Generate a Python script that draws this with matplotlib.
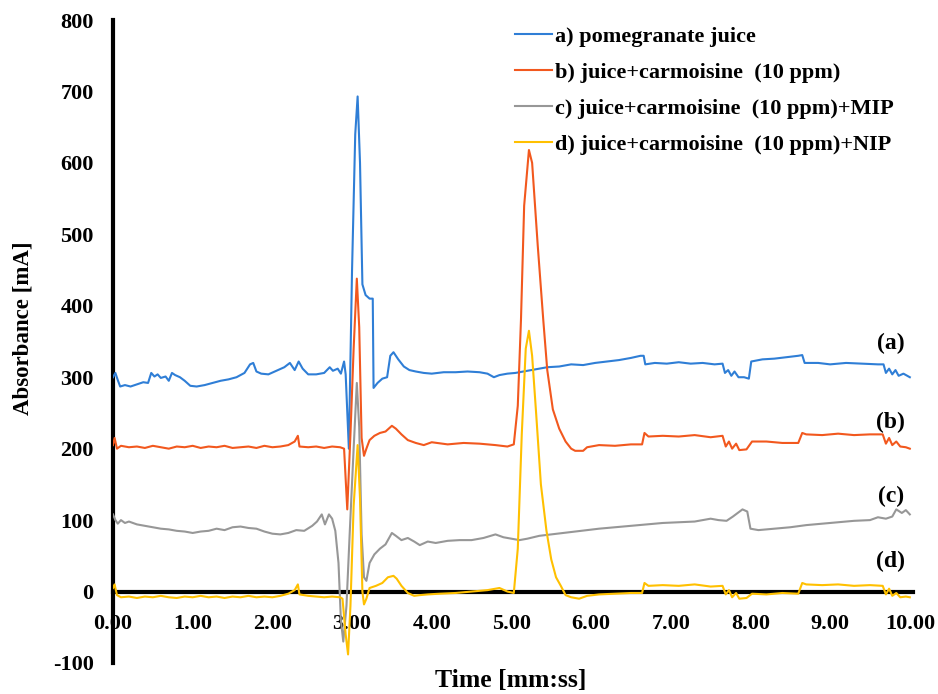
import matplotlib
matplotlib.use("Agg")
import matplotlib.pyplot as plt
import numpy as np

# ---------------- data ----------------
t_a = [0.00, 0.03, 0.06, 0.09, 0.15, 0.22, 0.30, 0.38, 0.44, 0.48, 0.52, 0.56, 0.60, 0.66, 0.70,
       0.74, 0.78, 0.84, 0.90, 0.97, 1.05, 1.15, 1.25, 1.35, 1.45, 1.55, 1.65, 1.72, 1.76, 1.80,
       1.86, 1.95, 2.05, 2.15, 2.22, 2.28, 2.33, 2.38, 2.45, 2.55, 2.65, 2.72, 2.76, 2.82, 2.86,
       2.90, 2.92, 2.96, 3.00, 3.04, 3.07, 3.10, 3.13, 3.17, 3.22, 3.26, 3.27, 3.32, 3.38, 3.44,
       3.48, 3.52, 3.58, 3.65, 3.72, 3.80, 3.90, 4.00, 4.15, 4.30, 4.45, 4.60, 4.70, 4.78, 4.85,
       4.95, 5.05, 5.15, 5.30, 5.45, 5.60, 5.75, 5.90, 6.05, 6.20, 6.35, 6.50, 6.62, 6.66, 6.68,
       6.80, 6.95, 7.10, 7.25, 7.40, 7.55, 7.65, 7.68, 7.72, 7.76, 7.80, 7.85, 7.92, 7.98, 8.01,
       8.15, 8.30, 8.45, 8.60, 8.65, 8.68, 8.85, 9.00, 9.20, 9.40, 9.60, 9.67, 9.70, 9.74, 9.78,
       9.82, 9.86, 9.92, 10.00]
v_a = [300, 306, 296, 287, 289, 287, 290, 293, 292, 306, 301, 304, 299, 301, 295,
       306, 303, 300, 295, 288, 287, 289, 292, 295, 297, 300, 306, 318, 320, 308,
       305, 304, 309, 314, 320, 310, 322, 312, 304, 304, 306, 314, 309, 312, 305,
       322, 304, 200, 450, 640, 693, 600, 430, 415, 410, 410, 285, 292, 298, 300,
       330, 335, 325, 315, 310, 308, 306, 305, 307, 307, 308, 307, 305, 300, 303,
       305, 306, 308, 311, 314, 315, 318, 317, 320, 322, 324, 327, 330, 330, 318,
       320, 319, 321, 319, 320, 318, 319, 306, 310, 302, 308, 300, 300, 298, 322,
       325, 326, 328, 330, 331, 320, 320, 318, 320, 319, 318, 318, 306, 312, 304,
       310, 302, 305, 300]

t_b = [0.00, 0.02, 0.05, 0.10, 0.20, 0.30, 0.40, 0.50, 0.60, 0.70, 0.80, 0.90, 1.00, 1.10, 1.20,
       1.30, 1.40, 1.50, 1.60, 1.70, 1.80, 1.90, 2.00, 2.10, 2.20, 2.28, 2.32, 2.34, 2.45, 2.55,
       2.65, 2.75, 2.85, 2.90, 2.94, 2.98, 3.02, 3.06, 3.09, 3.12, 3.15, 3.18, 3.22, 3.28, 3.35,
       3.42, 3.50, 3.55, 3.62, 3.70, 3.80, 3.90, 4.00, 4.20, 4.40, 4.60, 4.80, 4.95, 5.03, 5.08,
       5.12, 5.16, 5.22, 5.26, 5.33, 5.40, 5.45, 5.52, 5.60, 5.68, 5.75, 5.80, 5.90, 5.95, 6.10,
       6.30, 6.50, 6.64, 6.67, 6.72, 6.90, 7.10, 7.30, 7.50, 7.65, 7.69, 7.73, 7.77, 7.82, 7.86,
       7.95, 8.02, 8.20, 8.40, 8.60, 8.65, 8.70, 8.90, 9.10, 9.30, 9.50, 9.66, 9.70, 9.74, 9.78,
       9.83, 9.88, 9.95, 10.00]
v_b = [205, 215, 200, 204, 202, 203, 201, 204, 202, 200, 203, 202, 204, 201, 203,
       202, 204, 201, 202, 203, 201, 204, 202, 203, 205, 210, 218, 203, 202, 203,
       201, 203, 202, 200, 115, 220, 340, 438, 370, 215, 190, 200, 212, 218, 222,
       224, 232, 228, 220, 212, 208, 205, 209, 206, 208, 207, 205, 203, 206, 260,
       380, 540, 618, 600, 485, 380, 310, 255, 228, 210, 200, 197, 197, 202, 205,
       204, 206, 206, 222, 217, 218, 217, 219, 216, 218, 203, 210, 200, 207, 198,
       199, 210, 210, 208, 208, 222, 220, 219, 221, 219, 220, 220, 207, 215, 205,
       210, 203, 202, 200]

t_c = [0.00, 0.03, 0.06, 0.10, 0.15, 0.20, 0.30, 0.40, 0.50, 0.60, 0.70, 0.80, 0.90, 1.00, 1.10,
       1.20, 1.30, 1.40, 1.50, 1.60, 1.70, 1.80, 1.90, 2.00, 2.10, 2.20, 2.30, 2.40, 2.50, 2.56,
       2.62, 2.66, 2.71, 2.75, 2.79, 2.83, 2.86, 2.89, 2.93, 2.97, 3.02, 3.06, 3.09, 3.12, 3.15,
       3.18, 3.22, 3.28, 3.35, 3.42, 3.50, 3.55, 3.62, 3.70, 3.78, 3.85, 3.95, 4.05, 4.20, 4.35,
       4.50, 4.65, 4.80, 4.90, 5.00, 5.10, 5.20, 5.35, 5.50, 5.65, 5.80, 5.95, 6.10, 6.30, 6.50,
       6.70, 6.90, 7.10, 7.30, 7.50, 7.60, 7.70, 7.78, 7.84, 7.90, 7.96, 8.00, 8.10, 8.30, 8.50,
       8.70, 8.90, 9.10, 9.30, 9.50, 9.60, 9.70, 9.78, 9.83, 9.90, 9.95, 10.00]
v_c = [108, 100, 95, 100, 96, 98, 94, 92, 90, 88, 87, 85, 84, 82, 84,
       85, 88, 86, 90, 91, 89, 88, 84, 81, 80, 82, 86, 85, 92, 98,
       108, 94, 108, 102, 85, 40, -40, -70, -20, 80, 200, 292, 230, 80, 20,
       15, 40, 52, 60, 66, 82, 78, 72, 75, 70, 65, 70, 68, 71, 72,
       72, 75, 80, 76, 74, 72, 74, 78, 80, 82, 84, 86, 88, 90, 92,
       94, 96, 97, 98, 102, 100, 99, 105, 110, 115, 112, 88, 86, 88, 90,
       93, 95, 97, 99, 100, 104, 102, 105, 115, 110, 114, 108]

t_d = [0.00, 0.02, 0.05, 0.10, 0.20, 0.30, 0.40, 0.50, 0.60, 0.70, 0.80, 0.90, 1.00, 1.10, 1.20,
       1.30, 1.40, 1.50, 1.60, 1.70, 1.80, 1.90, 2.00, 2.10, 2.20, 2.28, 2.32, 2.34, 2.45, 2.55,
       2.65, 2.75, 2.85, 2.88, 2.92, 2.95, 2.98, 3.02, 3.07, 3.10, 3.13, 3.15, 3.18, 3.22, 3.30,
       3.38, 3.45, 3.52, 3.56, 3.62, 3.70, 3.78, 3.85, 3.95, 4.10, 4.30, 4.50, 4.70, 4.85, 4.95,
       5.03, 5.08, 5.13, 5.18, 5.22, 5.26, 5.31, 5.37, 5.44, 5.50, 5.56, 5.62, 5.68, 5.75, 5.85,
       5.95, 6.10, 6.30, 6.50, 6.64, 6.67, 6.72, 6.90, 7.10, 7.30, 7.50, 7.65, 7.69, 7.73, 7.77,
       7.82, 7.86, 7.95, 8.02, 8.20, 8.40, 8.60, 8.65, 8.70, 8.90, 9.10, 9.30, 9.50, 9.66, 9.70,
       9.74, 9.78, 9.83, 9.88, 9.95, 10.00]
v_d = [5, 10, -5, -8, -7, -9, -7, -8, -6, -8, -9, -7, -8, -6, -8,
       -7, -9, -7, -8, -6, -8, -7, -8, -6, -3, 2, 10, -4, -6, -7,
       -8, -7, -8, -10, -60, -88, -20, 120, 205, 130, 0, -18, -10, 5, 8,
       12, 20, 22, 18, 8, -2, -6, -5, -4, -3, -2, 0, 2, 5, 0,
       -2, 60, 220, 340, 365, 330, 250, 150, 85, 45, 20, 8, -5, -8, -10,
       -6, -4, -3, -2, -2, 12, 8, 9, 8, 10, 7, 8, -4, 2, -8,
       -2, -10, -9, -3, -4, -2, -3, 12, 10, 9, 10, 8, 9, 8, -4,
       4, -6, -2, -8, -7, -8]

labels = ["a) pomegranate juice",
          "b) juice+carmoisine  (10 ppm)",
          "c) juice+carmoisine  (10 ppm)+MIP",
          "d) juice+carmoisine  (10 ppm)+NIP"]
tags = ["(a)", "(b)", "(c)", "(d)"]
tag_y = [347, 236, 133, 42]
x_ticks = [0, 1, 2, 3, 4, 5, 6, 7, 8, 9, 10]
y_ticks = [-100, 0, 100, 200, 300, 400, 500, 600, 700, 800]

colors = ["#2F7ED6", "#F2581E", "#979797", "#FFC000"]

# ---------------- figure ----------------
FONT = "Liberation Serif"
fig = plt.figure(figsize=(9.38, 6.94), dpi=100)
ax = fig.add_axes([113 / 938, 1 - 663 / 694, 800 / 938, 643 / 694])

series = [(t_a, v_a), (t_b, v_b), (t_c, v_c), (t_d, v_d)]
for (t, v), c, lab in zip(series, colors, labels):
    ax.plot(t, v, color=c, lw=1.5, label=lab, zorder=3)

ax.set_xlim(0, 10.04)
ax.set_ylim(-100, 800)

for s in ["top", "right"]:
    ax.spines[s].set_visible(False)
ax.spines["bottom"].set_position(("data", 0))
ax.spines["bottom"].set_linewidth(3.0)
ax.spines["left"].set_linewidth(3.0)
ax.spines["bottom"].set_zorder(2)
ax.spines["left"].set_zorder(2)

ax.set_xticks(x_ticks)
ax.set_xticklabels([f"{x:.2f}" for x in x_ticks])
ax.set_yticks(y_ticks)
ax.set_yticklabels([str(y) for y in y_ticks])
ax.tick_params(axis="x", length=0, pad=16)
ax.tick_params(axis="y", length=0, pad=14)
for lab in ax.get_xticklabels() + ax.get_yticklabels():
    lab.set_fontfamily(FONT)
    lab.set_fontweight("bold")
    lab.set_fontsize(16)

fig.text(23 / 938, 1 - 328 / 694, "Absorbance [mA]", rotation=90, ha="center", va="center",
         fontfamily=FONT, fontweight="bold", fontsize=16.5)
fig.text(511 / 938, 1 - 681 / 694, "Time [mm:ss]", ha="center", va="center",
         fontfamily=FONT, fontweight="bold", fontsize=18.5)

for tg, ty in zip(tags, tag_y):
    ax.text(9.76, ty, tg, ha="center", va="center", fontfamily=FONT,
            fontweight="bold", fontsize=17)

leg = ax.legend(loc="upper left", bbox_to_anchor=(515 / 938, 1 - 26 / 694),
                bbox_transform=fig.transFigure, frameon=False, borderpad=0,
                borderaxespad=0, handlelength=1.66, handletextpad=0.15, labelspacing=0.7,
                prop={"family": FONT, "weight": "bold", "size": 16})

fig.savefig("out.png", dpi=100)
